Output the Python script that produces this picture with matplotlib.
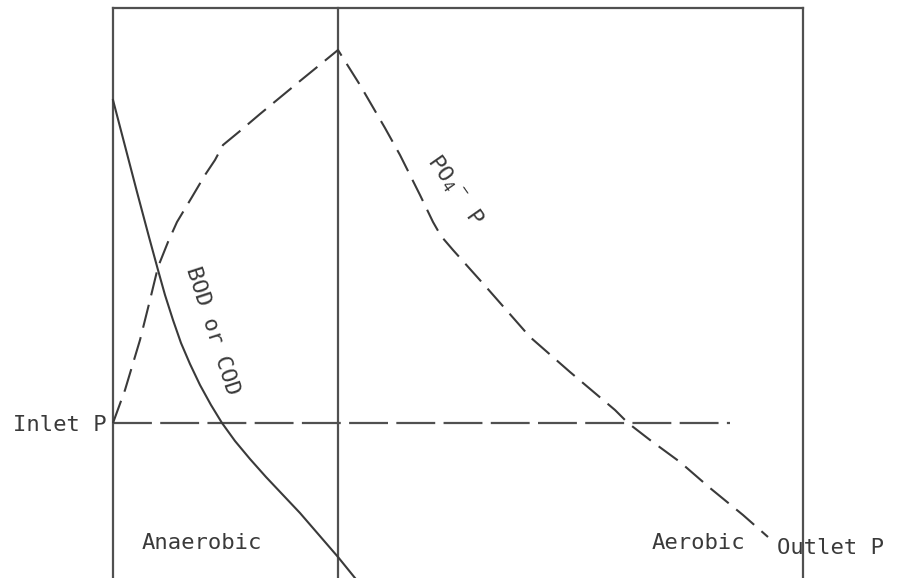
import matplotlib.pyplot as plt

plt.rcParams['lines.scale_dashes'] = False
plt.rcParams['mathtext.fontset'] = 'custom'
plt.rcParams['mathtext.rm'] = 'DejaVu Sans Mono'
plt.rcParams['mathtext.default'] = 'rm'

# frame of the schematic (pixel space of the original drawing, y downwards)
frame_left, frame_right, frame_top, zone_split = 113, 803, 8, 338
inlet_y = 423
inlet_end = 730

# BOD / COD curve (solid)
bod_x = [113, 125, 137, 149, 158, 165, 173, 181, 190, 200, 211, 222,
         235, 250, 266, 283, 300, 319, 338, 355]
bod_y = [100, 146, 192, 237, 270, 295, 320, 343, 364, 385, 405, 423,
         441, 459, 477, 495, 513, 535, 557, 578]

# PO4-P curve (dashed)
po4_x = [113, 125, 140, 150, 158, 168, 177, 192, 205, 215, 223, 240, 260, 300, 338,
         360, 385, 400, 420, 433, 441, 453, 487, 530, 570, 615, 628, 650, 680, 710,
         743, 768]
po4_y = [423, 390, 340, 300, 267, 242, 222, 197, 175, 160, 145, 131, 114, 81, 50,
         85, 128, 155, 195, 222, 236, 250, 288, 337, 372, 410, 423, 440, 462, 488,
         515, 537]

ink = '#3a3a3a'
frame_ink = '#505050'
font = 'DejaVu Sans Mono'

fig = plt.figure(figsize=(8.97, 5.78), dpi=100)
ax = fig.add_axes([0, 0, 1, 1])
ax.set_xlim(0, 897)
ax.set_ylim(578, 0)
ax.axis('off')

# box
ax.plot([frame_left, frame_right], [frame_top, frame_top], color=frame_ink, lw=1.6)
ax.plot([frame_left, frame_left], [frame_top, 578], color=frame_ink, lw=1.6)
ax.plot([frame_right, frame_right], [frame_top, 578], color=frame_ink, lw=1.6)
ax.plot([zone_split, zone_split], [frame_top, 578], color=frame_ink, lw=1.6)

# inlet P level
ax.plot([frame_left, inlet_end], [inlet_y, inlet_y], color=frame_ink, lw=1.6,
        dashes=(28, 6))

# curves
ax.plot(bod_x, bod_y, color=ink, lw=1.5)
ax.plot(po4_x, po4_y, color=ink, lw=1.5, dashes=(17, 7))

# labels
ax.text(107, inlet_y + 2, 'Inlet P', ha='right', va='center', fontsize=16,
        family=font, color=ink)
ax.text(777, 548, 'Outlet P', ha='left', va='center', fontsize=16,
        family=font, color=ink)
ax.text(202, 543, 'Anaerobic', ha='center', va='center', fontsize=16,
        family=font, color=ink)
ax.text(698, 543, 'Aerobic', ha='center', va='center', fontsize=16,
        family=font, color=ink)
ax.text(212, 331, 'BOD or COD', ha='center', va='center', fontsize=16,
        family=font, color=ink, rotation=-72, rotation_mode='anchor')
ax.text(455, 190, r'PO$_4$$^-$ P', ha='center', va='center', fontsize=16,
        family=font, color=ink, rotation=-55, rotation_mode='anchor')

fig.savefig('out.png', dpi=100)
